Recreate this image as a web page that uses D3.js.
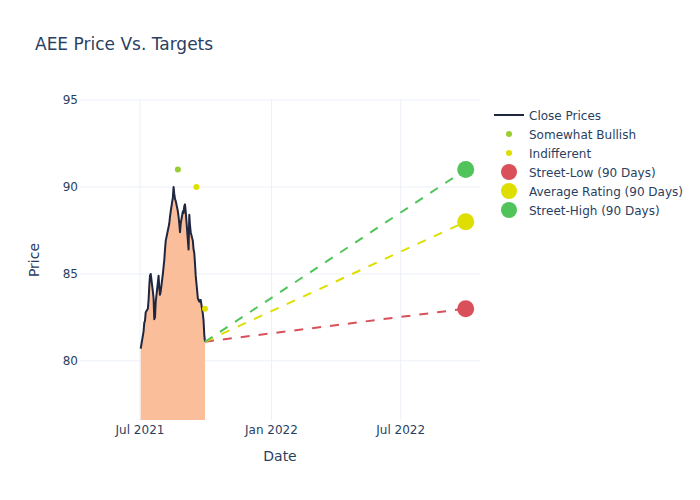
<!DOCTYPE html>
<html>
<head>
<meta charset="utf-8">
<script src="https://cdn.jsdelivr.net/npm/d3@7"></script>
<style>
  body { margin: 0; background: #fff; }
  svg text { font-family: "DejaVu Sans", sans-serif; }
</style>
</head>
<body>
<svg id="chart" width="700" height="500"></svg>
<script>
// ---- data ----
const closeDates = [
  "2021-07-02","2021-07-06","2021-07-07","2021-07-08","2021-07-09",
  "2021-07-12","2021-07-13","2021-07-14","2021-07-15","2021-07-16",
  "2021-07-19","2021-07-20","2021-07-21","2021-07-22","2021-07-23",
  "2021-07-26","2021-07-27","2021-07-28","2021-07-29","2021-07-30",
  "2021-08-02","2021-08-03","2021-08-04","2021-08-05","2021-08-06",
  "2021-08-09","2021-08-10","2021-08-11","2021-08-12","2021-08-13",
  "2021-08-16","2021-08-17","2021-08-18","2021-08-19","2021-08-20",
  "2021-08-23","2021-08-24","2021-08-25","2021-08-26","2021-08-27",
  "2021-08-30","2021-08-31","2021-09-01","2021-09-02","2021-09-03",
  "2021-09-07","2021-09-08","2021-09-09","2021-09-10",
  "2021-09-13","2021-09-14","2021-09-15","2021-09-16","2021-09-17",
  "2021-09-20","2021-09-21","2021-09-22","2021-09-23","2021-09-24",
  "2021-09-27","2021-09-28","2021-09-29","2021-09-30"
];
const closePrices = [
  80.7, 81.7, 82.2, 82.3, 82.8,
  83.0, 83.5, 84.3, 84.9, 85.0,
  84.0, 83.6, 82.4, 82.5, 83.4,
  84.5, 84.9, 84.2, 83.8, 84.0,
  85.0, 85.4, 85.8, 86.4, 86.9,
  87.5, 87.7, 87.9, 88.3, 88.6,
  89.4, 90.0, 89.6, 89.3, 89.2,
  88.6, 88.3, 87.9, 87.4, 87.9,
  88.6, 88.5, 88.9, 89.0, 88.6,
  86.4, 88.4, 87.8, 87.4,
  86.9, 86.4, 86.2, 85.6, 84.9,
  83.6, 83.5, 83.4, 83.5, 83.5,
  82.7, 82.3, 81.5, 81.1
];
const bullishDates = ["2021-08-23"];
const bullishValues = [91];
const indifferentDates = ["2021-09-18", "2021-09-30"];
const indifferentValues = [90, 83];
const targetDate = "2022-09-30";
const targetNames = ["Street-Low (90 Days)", "Average Rating (90 Days)", "Street-High (90 Days)"];
const targetValues = [83, 88, 91];
const targetColors = ["#d9505a", "#dede00", "#50c45a"];
const yTicks = [80, 85, 90, 95];
const xTicks = ["2021-07-01", "2022-01-01", "2022-07-01"];
const xDomain = ["2021-04-08", "2022-10-20"];
const yDomain = [76.6, 95];

// ---- layout ----
const svg = d3.select("#chart");
const W = 700, H = 500;
const m = { l: 80, r: 220, t: 100, b: 80 };
const pw = W - m.l - m.r, ph = H - m.t - m.b;
const textColor = "#2a3f5f";
const gridColor = "#ebf0f8";
const parse = d3.utcParse("%Y-%m-%d");

const x = d3.scaleUtc().domain(xDomain.map(parse)).range([m.l, m.l + pw]);
const y = d3.scaleLinear().domain(yDomain).range([m.t + ph, m.t]);

svg.append("rect").attr("width", W).attr("height", H).attr("fill", "#fff");

// grid
const grid = svg.append("g");
grid.selectAll("line.v").data(xTicks.map(parse)).join("line")
  .attr("x1", d => x(d)).attr("x2", d => x(d))
  .attr("y1", m.t).attr("y2", m.t + ph)
  .attr("stroke", gridColor).attr("stroke-width", 1);
grid.selectAll("line.h").data(yTicks).join("line")
  .attr("x1", m.l).attr("x2", m.l + pw)
  .attr("y1", d => y(d)).attr("y2", d => y(d))
  .attr("stroke", gridColor).attr("stroke-width", 1);

// clip
svg.append("clipPath").attr("id", "clip").append("rect")
  .attr("x", m.l).attr("y", m.t).attr("width", pw).attr("height", ph);

const plot = svg.append("g").attr("clip-path", "url(#clip)");
const series = closeDates.map((d, i) => ({ date: parse(d), value: closePrices[i] }));

plot.append("path").datum(series)
  .attr("fill", "rgb(251,190,154)")
  .attr("d", d3.area().x(d => x(d.date)).y0(m.t + ph + 5).y1(d => y(d.value)));

plot.append("path").datum(series)
  .attr("fill", "none").attr("stroke", "#1f2640").attr("stroke-width", 2)
  .attr("stroke-linejoin", "round")
  .attr("d", d3.line().x(d => x(d.date)).y(d => y(d.value)));

// target lines
const last = series[series.length - 1];
targetValues.forEach((v, i) => {
  plot.append("line")
    .attr("x1", x(last.date)).attr("y1", y(last.value))
    .attr("x2", x(parse(targetDate))).attr("y2", y(v))
    .attr("stroke", targetColors[i]).attr("stroke-width", 2)
    .attr("stroke-dasharray", "9,9");
});

// rating points
plot.selectAll("circle.bull").data(bullishDates.map((d, i) => ({ date: parse(d), value: bullishValues[i] })))
  .join("circle").attr("cx", d => x(d.date)).attr("cy", d => y(d.value)).attr("r", 3)
  .attr("fill", "#9acd32");
plot.selectAll("circle.ind").data(indifferentDates.map((d, i) => ({ date: parse(d), value: indifferentValues[i] })))
  .join("circle").attr("cx", d => x(d.date)).attr("cy", d => y(d.value)).attr("r", 3)
  .attr("fill", "#dede00");

// target markers
targetValues.forEach((v, i) => {
  svg.append("circle").attr("cx", x(parse(targetDate))).attr("cy", y(v)).attr("r", 8.5)
    .attr("fill", targetColors[i]);
});

// axes labels
const fmt = d3.utcFormat("%b %Y");
svg.append("g").selectAll("text").data(xTicks.map(parse)).join("text")
  .attr("x", d => x(d)).attr("y", m.t + ph + 14)
  .attr("text-anchor", "middle").attr("font-size", 12).attr("fill", textColor)
  .text(d => fmt(d));
svg.append("g").selectAll("text").data(yTicks).join("text")
  .attr("x", m.l - 2).attr("y", d => y(d) + 4)
  .attr("text-anchor", "end").attr("font-size", 12).attr("fill", textColor)
  .text(d => d);

svg.append("text").attr("x", m.l + pw / 2).attr("y", 461)
  .attr("text-anchor", "middle").attr("font-size", 14).attr("fill", textColor).text("Date");
svg.append("text").attr("transform", `translate(39,${m.t + ph / 2}) rotate(-90)`)
  .attr("text-anchor", "middle").attr("font-size", 14).attr("fill", textColor).text("Price");

svg.append("text").attr("x", 35).attr("y", 50)
  .attr("font-size", 17).attr("fill", textColor).text("AEE Price Vs. Targets");

// legend
const legendItems = [
  { name: "Close Prices", type: "line", color: "#1f2640" },
  { name: "Somewhat Bullish", type: "dot", r: 3, color: "#9acd32" },
  { name: "Indifferent", type: "dot", r: 3, color: "#dede00" },
  ...targetNames.map((n, i) => ({ name: n, type: "dot", r: 8, color: targetColors[i] }))
];
const lg = svg.append("g");
legendItems.forEach((it, i) => {
  const cy = 115 + i * 19;
  if (it.type === "line") {
    lg.append("line").attr("x1", 494).attr("x2", 524).attr("y1", cy).attr("y2", cy)
      .attr("stroke", it.color).attr("stroke-width", 2);
  } else {
    lg.append("circle").attr("cx", 509).attr("cy", cy).attr("r", it.r).attr("fill", it.color);
  }
  lg.append("text").attr("x", 529).attr("y", cy + 4.5).attr("font-size", 12)
    .attr("fill", textColor).text(it.name);
});
</script>
</body>
</html>
